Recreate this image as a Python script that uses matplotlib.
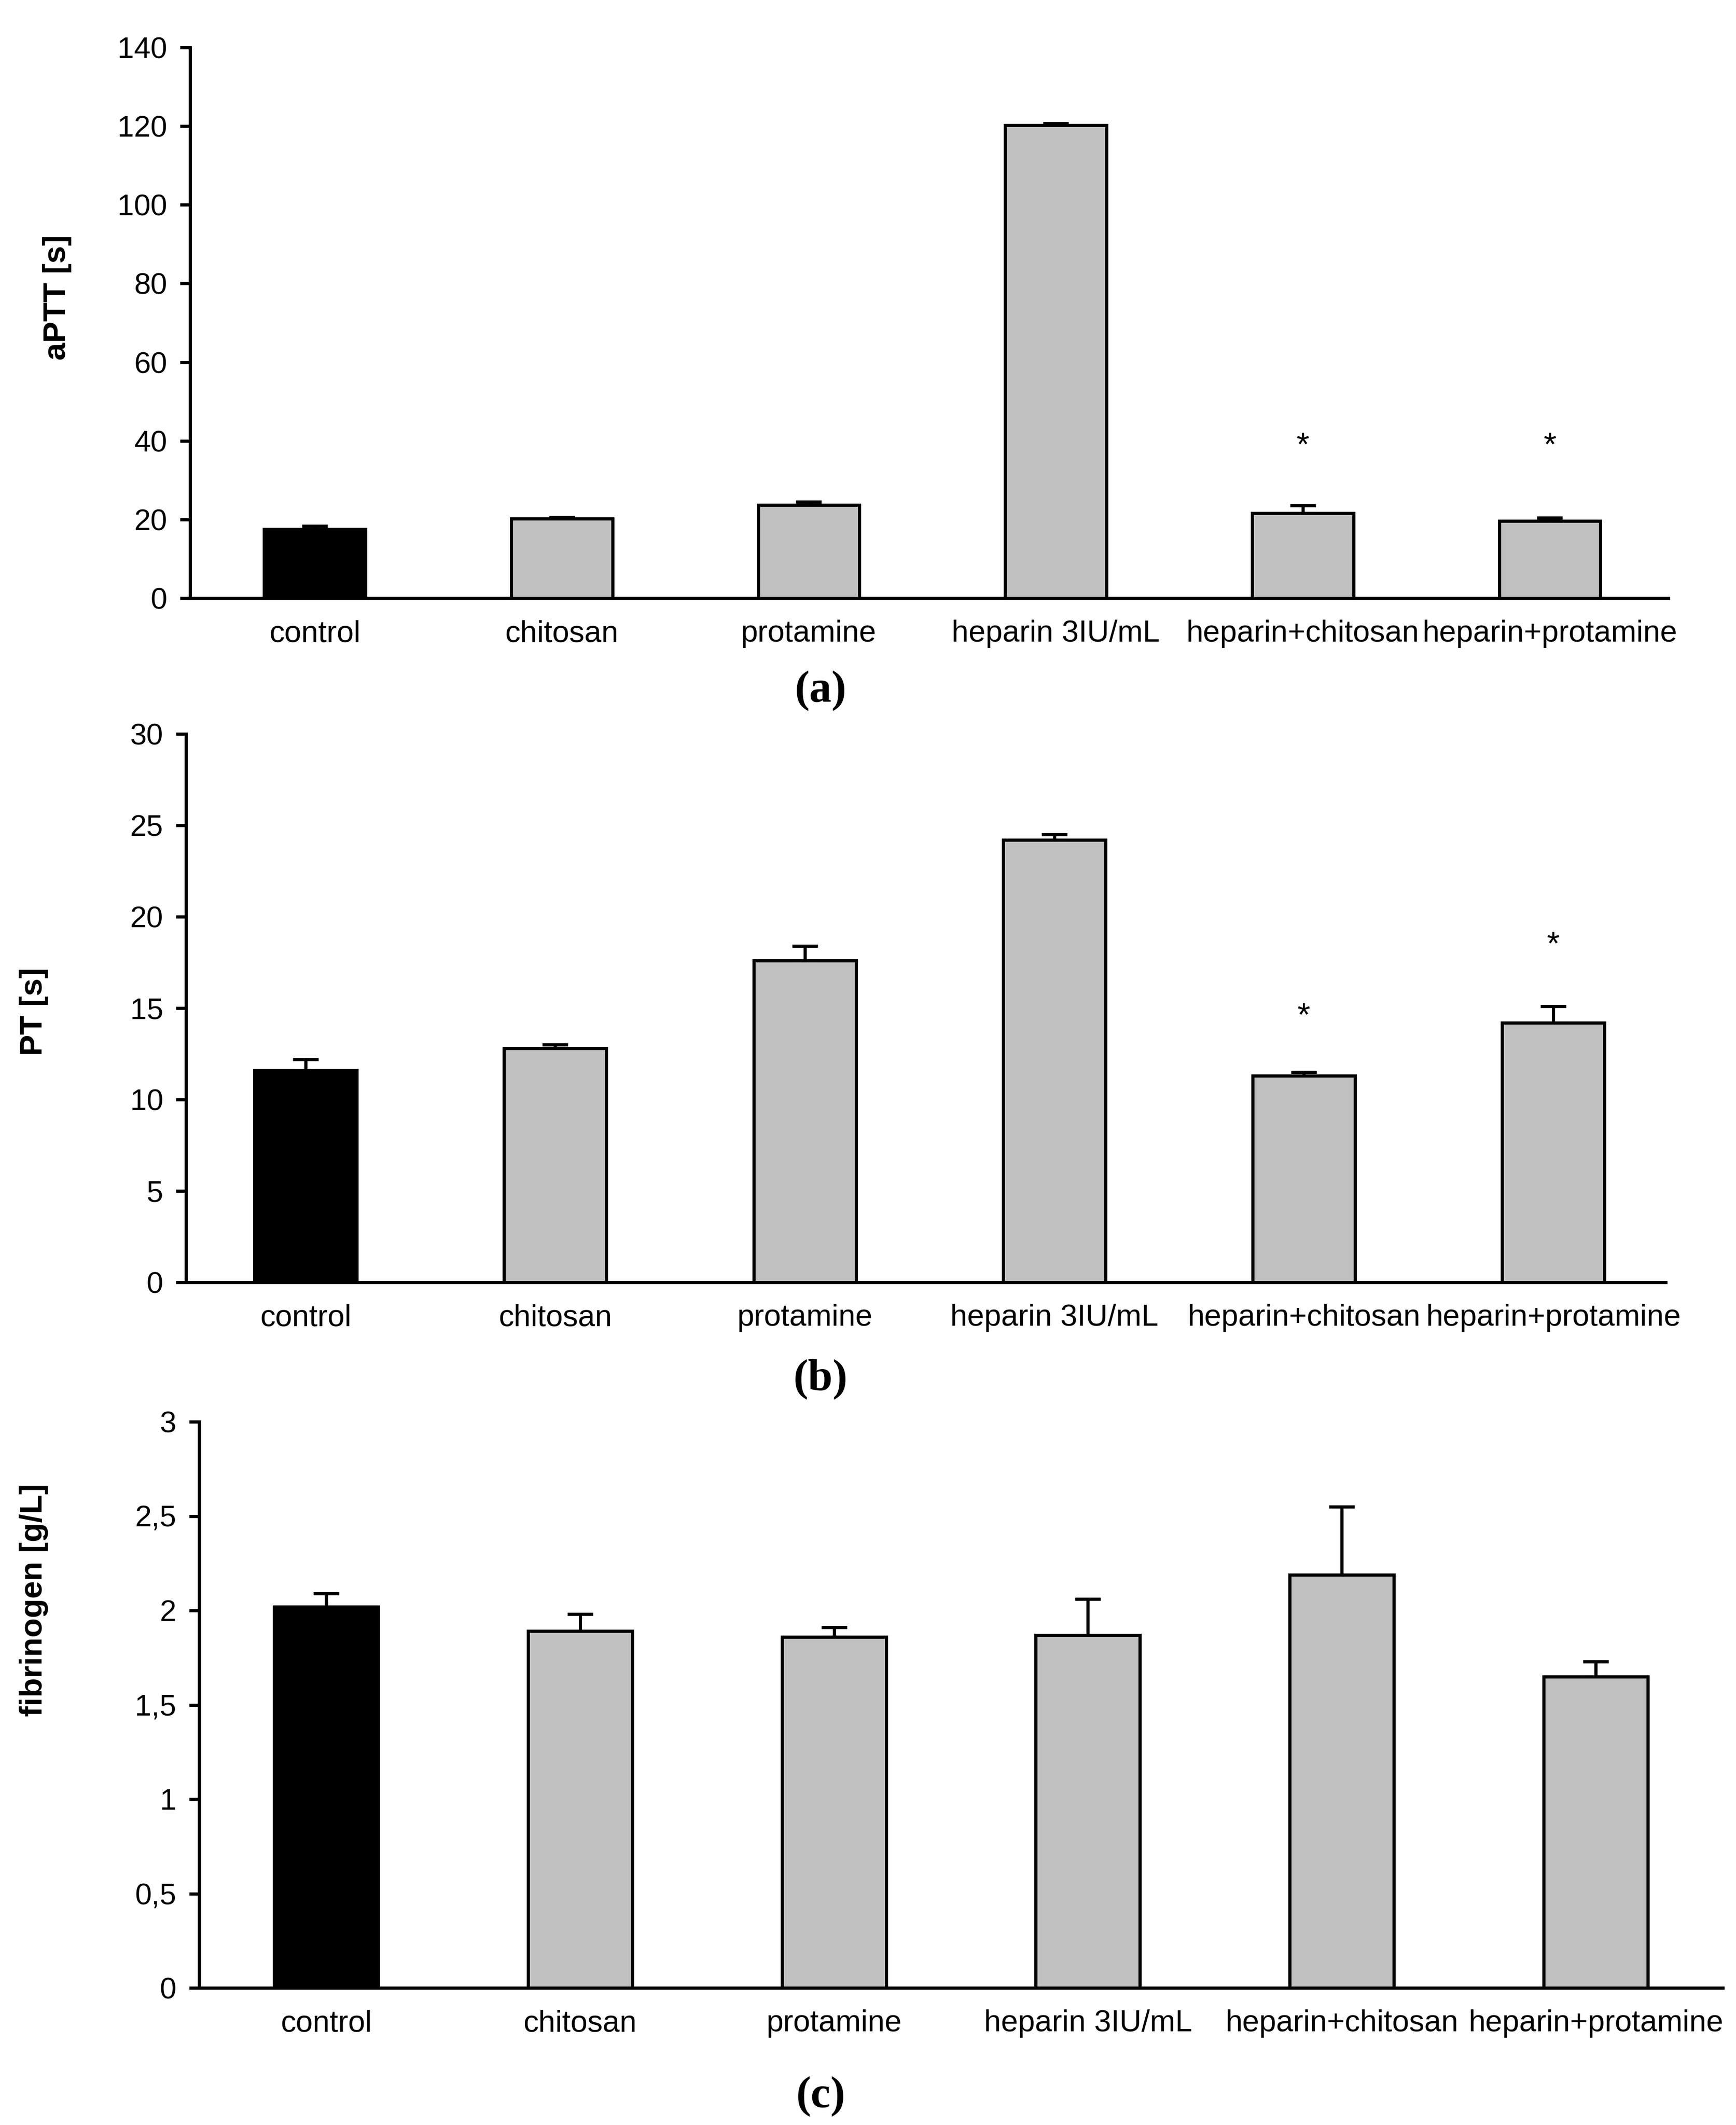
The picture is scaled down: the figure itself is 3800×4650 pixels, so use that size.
import numpy as np
import matplotlib
matplotlib.use("Agg")
import matplotlib.pyplot as plt

# --- data ---
groups = ["control", "chitosan", "protamine", "heparin 3IU/mL",
          "heparin+chitosan", "heparin+protamine"]

aptt     = [17.5, 20.2, 23.7, 120.2, 21.6, 19.6]
aptt_err = [0.9, 0.4, 0.8, 0.5, 2.0, 0.8]
aptt_sig = [None, None, None, None, 38.5, 38.5]

pt     = [11.6, 12.8, 17.6, 24.2, 11.3, 14.2]
pt_err = [0.6, 0.2, 0.8, 0.3, 0.2, 0.9]
pt_sig = [None, None, None, None, 14.5, 18.4]

fib     = [2.02, 1.89, 1.86, 1.87, 2.19, 1.65]
fib_err = [0.07, 0.09, 0.05, 0.19, 0.36, 0.08]

colors = ["#000000"] + ["#c0c0c0"] * 5

plt.rcParams["font.family"] = ["Liberation Sans", "DejaVu Sans"]

W, H = 3800, 4650
fig = plt.figure(figsize=(W / 100, H / 100), dpi=100)


def px_axes(left, top, right, bottom):
    # pixel box -> figure fraction
    return fig.add_axes([left / W, 1 - bottom / H, (right - left) / W, (bottom - top) / H])


def panel(ax, vals, errs, ymax, ystep, ticklabels, stars=None, xlim=(-0.5, 5.5)):
    x = np.arange(len(groups))
    lo = np.zeros(len(vals))
    ax.errorbar(x, vals, yerr=[lo, errs], fmt="none", ecolor="black",
                elinewidth=5, capsize=20, capthick=5, zorder=1)
    ax.bar(x, vals, width=0.41, color=colors, edgecolor="black",
           linewidth=5, zorder=2)
    if stars:
        for xi, s in zip(x, stars):
            if s is not None:
                ax.text(xi, s, "*", ha="center", va="center", fontsize=52)
    ax.set_xlim(*xlim)
    ax.set_ylim(0, ymax)
    ticks = np.arange(0, ymax + ystep / 2, ystep)
    ax.set_yticks(ticks)
    ax.set_yticklabels(ticklabels)
    ax.set_xticks(x)
    ax.set_xticklabels(groups)
    for side in ["top", "right"]:
        ax.spines[side].set_visible(False)
    for side in ["left", "bottom"]:
        ax.spines[side].set_linewidth(5)
    ax.tick_params(axis="y", direction="out", length=16, width=5,
                   labelsize=47, pad=20)
    ax.tick_params(axis="x", length=0, labelsize=48, pad=34)


# (a) aPTT
ax1 = px_axes(416, 104, 3652, 1309)
panel(ax1, aptt, aptt_err, 140, 20, [str(v) for v in range(0, 141, 20)],
      stars=aptt_sig, xlim=(-0.505, 5.48))

# (b) PT
ax2 = px_axes(407, 1606, 3646, 2806)
panel(ax2, pt, pt_err, 30, 5, [str(v) for v in range(0, 31, 5)],
      stars=pt_sig, xlim=(-0.48, 5.45))

# (c) fibrinogen
ax3 = px_axes(436, 3111, 3771, 4350)
panel(ax3, fib, fib_err, 3, 0.5, ["0", "0,5", "1", "1,5", "2", "2,5", "3"])

fig.text(0.033, 0.860, "aPTT [s]", rotation=90, ha="center", va="center",
         fontsize=50, fontweight="bold")
fig.text(0.0195, 0.524, "PT [s]", rotation=90, ha="center", va="center",
         fontsize=50, fontweight="bold")
fig.text(0.0195, 0.247, "fibrinogen [g/L]", rotation=90, ha="center", va="center",
         fontsize=50, fontweight="bold")

for lab, yy in [("(a)", 0.675), ("(b)", 0.351), ("(c)", 0.0135)]:
    fig.text(0.4727, yy, lab, ha="center", va="center", fontsize=70,
             fontweight="bold", family=["Liberation Serif", "DejaVu Serif"])

fig.savefig("out.png", dpi=100, facecolor="white")
